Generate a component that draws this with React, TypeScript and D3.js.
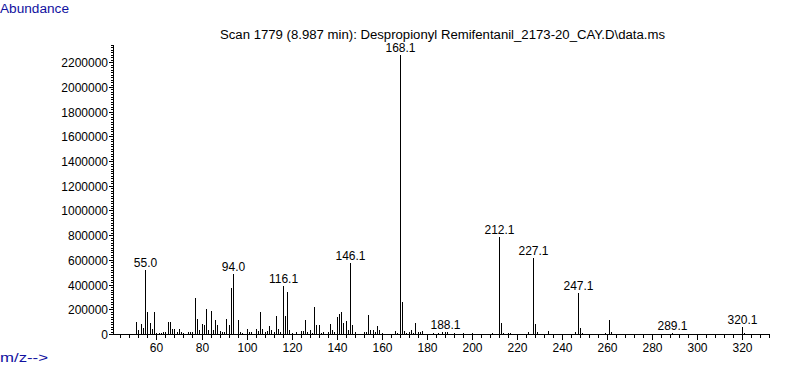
import * as d3 from "d3";
import React from "react";

// m/z values and their abundances
const mzValues = [
  51, 52, 53, 54, 55, 56, 57, 58, 59, 60, 61, 62, 63, 64, 65, 66, 67, 68, 69, 70,
  71, 72, 74, 75, 76, 77, 78, 79, 80, 81, 82, 83, 84, 85, 86, 87, 88, 89, 90, 91,
  92, 93, 94, 96, 97, 98, 100, 101, 102, 104, 105, 106, 107, 108, 109, 110, 111, 112, 113, 114,
  115, 116, 117, 118, 119, 120, 122, 124, 125, 126, 127, 128, 129, 130, 131, 132, 133, 134, 136, 137,
  138, 139, 140, 141, 142, 143, 144, 145, 146, 147, 148, 152, 153, 154, 155, 156, 157, 158, 159, 160,
  166, 167, 168, 169, 170, 171, 172, 173, 174, 175, 176, 177, 178, 183, 185, 187, 188, 189, 192, 196,
  200, 209, 212, 213, 214, 216, 217, 225, 227, 228, 229, 234, 246, 247, 248, 249, 259, 261, 262, 289,
  320, 321,
];
const abundances = [
  97000, 32000, 81000, 50000, 518000, 178000, 90000, 43000, 178000, 11000, 10000, 11000, 19000, 19000, 97000, 97000, 38000, 43000, 19000, 40000,
  19000, 10000, 19000, 14000, 19000, 292000, 124000, 32000, 81000, 73000, 203000, 32000, 186000, 32000, 113000, 73000, 27000, 16000, 19000, 122000,
  73000, 375000, 486000, 113000, 19000, 8000, 40000, 16000, 19000, 40000, 24000, 178000, 40000, 19000, 24000, 65000, 32000, 19000, 146000, 40000,
  19000, 390000, 146000, 340000, 32000, 10000, 16000, 24000, 24000, 113000, 16000, 32000, 11000, 220000, 73000, 73000, 11000, 16000, 16000, 81000,
  32000, 16000, 138000, 162000, 178000, 92000, 105000, 32000, 575000, 73000, 16000, 16000, 16000, 154000, 32000, 32000, 16000, 65000, 32000, 11000,
  24000, 11000, 2260000, 259000, 24000, 11000, 16000, 32000, 11000, 92000, 19000, 16000, 24000, 11000, 8000, 16000, 20000, 16000, 8000, 8000,
  8000, 11000, 786000, 92000, 11000, 11000, 11000, 19000, 615000, 81000, 16000, 24000, 19000, 335000, 46000, 11000, 11000, 113000, 16000, 6000,
  57000, 8000,
];

const peakLabelMz = [55, 94, 116, 146, 168, 188, 212, 227, 247, 289, 320];
const peakLabels = ["55.0", "94.0", "116.1", "146.1", "168.1", "188.1", "212.1", "227.1", "247.1", "289.1", "320.1"];

const yMajorTicks = d3.range(0, 2200001, 200000);
const xMajorTicks = d3.range(60, 321, 20);

const title = "Scan 1779 (8.987 min): Despropionyl Remifentanil_2173-20_CAY.D\\data.ms";

const App = () => {
  const width = 787, height = 367;
  const left = 113, right = 769, top = 45, base = 334;

  const x = d3.scaleLinear().domain([40.7, 332]).range([left, right]);
  const y = d3.scaleLinear().domain([0, 2340000]).range([base, top]);

  const yMinor = d3.range(0, 2340001, 20000);
  const xMinor = d3.range(44, 333, 4);

  const px = (v) => Math.round(x(v)) + 0.5;
  const py = (v) => Math.round(y(v)) + 0.5;

  const font = "'Liberation Sans', Arial, sans-serif";

  return (
    <svg width={width} height={height} style={{ position: "absolute", left: 0, top: 0, background: "#fff" }}
      fontFamily={font} fontSize={12}>
      <text x={0} y={13} fill="#1010a0" textLength={69} lengthAdjust="spacingAndGlyphs">Abundance</text>
      <text x={0} y={362} fill="#1010a0" textLength={48} lengthAdjust="spacingAndGlyphs">m/z--&gt;</text>
      <text x={220} y={39} fill="#000" textLength={445} lengthAdjust="spacingAndGlyphs">{title}</text>

      <g shapeRendering="crispEdges" stroke="#000" strokeWidth={1}>
        {/* y axis */}
        <line x1={left + 0.5} x2={left + 0.5} y1={top} y2={base + 1} />
        {yMinor.map((t) => (
          <line key={"ym" + t} x1={left - 2} x2={left} y1={py(t)} y2={py(t)} />
        ))}
        {yMajorTicks.map((t) => (
          <line key={"yM" + t} x1={left - 4} x2={left} y1={py(t)} y2={py(t)} />
        ))}
        {/* x axis */}
        <line x1={left} x2={right + 1} y1={base + 0.5} y2={base + 0.5} />
        {xMinor.map((t) => (
          <line key={"xm" + t} x1={px(t)} x2={px(t)} y1={base} y2={base + 4} />
        ))}
        {xMajorTicks.map((t) => (
          <line key={"xM" + t} x1={px(t)} x2={px(t)} y1={base} y2={base + 6} />
        ))}
        {/* peaks */}
        {mzValues.map((m, i) => (
          <line key={"p" + m} x1={px(m)} x2={px(m)} y1={base} y2={Math.round(y(abundances[i]))} />
        ))}
      </g>

      {yMajorTicks.map((t) => (
        <text key={"yl" + t} x={left - 5} y={py(t)} dy="0.35em" textAnchor="end" fill="#000">{t}</text>
      ))}
      {xMajorTicks.map((t) => (
        <text key={"xl" + t} x={px(t)} y={352} textAnchor="middle" fill="#000">{t}</text>
      ))}
      {peakLabelMz.map((m, i) => {
        const idx = mzValues.indexOf(m);
        return (
          <text key={"pl" + m} x={px(m)} y={Math.round(y(abundances[idx])) - 3}
            textAnchor="middle" fill="#000">{peakLabels[i]}</text>
        );
      })}
    </svg>
  );
};

export default App;
